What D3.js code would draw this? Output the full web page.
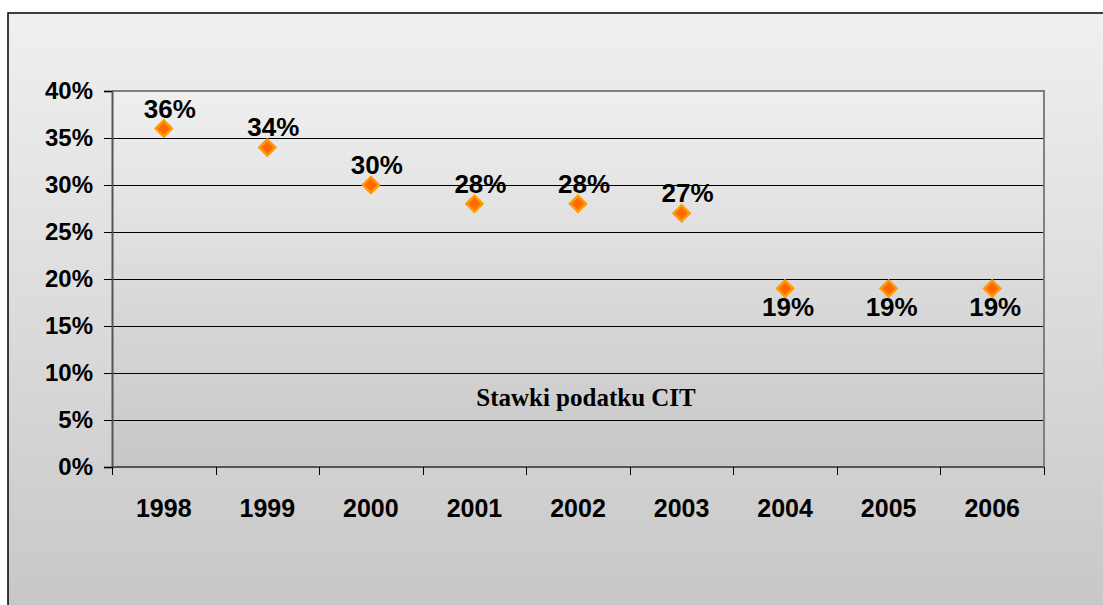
<!DOCTYPE html>
<html>
<head>
<meta charset="utf-8">
<script src="https://cdn.jsdelivr.net/npm/d3@7"></script>
<style>
  html, body { margin: 0; padding: 0; background: #fff; }
  svg { display: block; font-family: "Liberation Sans", Arial, sans-serif; }
</style>
</head>
<body>
<svg id="chart" width="1103" height="605"></svg>
<script>
// data
const years = ['1998', '1999', '2000', '2001', '2002', '2003', '2004', '2005', '2006'];
const rates = [0.36, 0.34, 0.30, 0.28, 0.28, 0.27, 0.19, 0.19, 0.19];
const yTicks = [0, 0.05, 0.10, 0.15, 0.20, 0.25, 0.30, 0.35, 0.40];
const seriesName = 'Stawki podatku CIT';

const W = 1103, H = 605;
const plot = { left: 112, right: 1044, top: 91, bottom: 467 };

const svg = d3.select('#chart');
const defs = svg.append('defs');

function vGrad(id, top, bottom) {
  const g = defs.append('linearGradient').attr('id', id)
    .attr('x1', 0).attr('y1', 0).attr('x2', 0).attr('y2', 1);
  g.append('stop').attr('offset', '0%').attr('stop-color', top);
  g.append('stop').attr('offset', '100%').attr('stop-color', bottom);
}
vGrad('outerBg', '#f0f0f0', '#c6c6c6');
vGrad('plotBg', '#efefef', '#c7c7c7');

// outer chart area (runs past the right/bottom edge)
svg.append('rect')
  .attr('x', 8).attr('y', 13)
  .attr('width', W + 20).attr('height', H + 10)
  .attr('fill', 'url(#outerBg)')
  .attr('stroke', '#000').attr('stroke-width', 1.5);

const x = d3.scaleBand().domain(years).range([plot.left, plot.right]);
const y = d3.scaleLinear().domain([0, 0.4]).range([plot.bottom, plot.top]);

// plot area
svg.append('rect')
  .attr('x', plot.left).attr('y', plot.top)
  .attr('width', plot.right - plot.left).attr('height', plot.bottom - plot.top)
  .attr('fill', 'url(#plotBg)');

// gridlines
svg.append('g')
  .selectAll('line')
  .data(yTicks.filter(t => t > 0 && t < 0.4))
  .join('line')
  .attr('x1', plot.left).attr('x2', plot.right)
  .attr('y1', d => Math.round(y(d)) + 0.5).attr('y2', d => Math.round(y(d)) + 0.5)
  .attr('stroke', '#000').attr('stroke-width', 1);

// top + right border of plot
svg.append('path')
  .attr('d', `M${plot.left},${plot.top} H${plot.right} V${plot.bottom}`)
  .attr('fill', 'none').attr('stroke', '#808080').attr('stroke-width', 2);

// y axis
const yAxis = d3.axisLeft(y).tickValues(yTicks).tickFormat(d3.format('.0%')).tickSize(8).tickPadding(11);
const gy = svg.append('g').attr('transform', `translate(${plot.left},0)`).call(yAxis);
gy.attr('font-size', null).attr('font-family', null);
gy.select('.domain').attr('stroke', '#555').attr('stroke-width', 2);
gy.selectAll('.tick line').attr('stroke', '#000');
gy.selectAll('.tick text')
  .attr('font-size', 24).attr('font-weight', 'bold').attr('fill', '#000');

// x axis: ticks between categories
const gx = svg.append('g').attr('transform', `translate(0,${plot.bottom})`);
gx.append('line')
  .attr('x1', plot.left).attr('x2', plot.right)
  .attr('stroke', '#555').attr('stroke-width', 2);
const edges = years.map(d => x(d)).concat([x(years[years.length - 1]) + x.bandwidth()]);
gx.selectAll('line.tick')
  .data(edges)
  .join('line').attr('class', 'tick')
  .attr('x1', d => Math.round(d) + 0.5).attr('x2', d => Math.round(d) + 0.5)
  .attr('y1', 0).attr('y2', 8)
  .attr('stroke', '#000');
gx.selectAll('text')
  .data(years)
  .join('text')
  .attr('x', d => x(d) + x.bandwidth() / 2)
  .attr('y', 50)
  .attr('text-anchor', 'middle')
  .attr('font-size', 25).attr('font-weight', 'bold')
  .text(d => d);

// series label inside the plot
svg.append('text')
  .attr('x', 586)
  .attr('y', 406)
  .attr('text-anchor', 'middle')
  .attr('font-family', '"Liberation Serif", "Times New Roman", serif')
  .attr('font-size', 25).attr('font-weight', 'bold')
  .text(seriesName);

// markers
const pts = years.map((d, i) => ({ year: d, v: rates[i] }));
const cx = d => x(d.year) + x.bandwidth() / 2;

svg.append('g')
  .selectAll('path')
  .data(pts)
  .join('path')
  .attr('d', d3.symbol(d3.symbolSquare, 128)())
  .attr('transform', d => `translate(${cx(d)},${y(d.v)}) rotate(45)`)
  .attr('fill', '#ff6a00')
  .attr('stroke', '#ff9a00')
  .attr('stroke-width', 2.5);

// data labels: above, except the flat low tail which sits below
svg.append('g')
  .selectAll('text')
  .data(pts)
  .join('text')
  .attr('x', d => cx(d) + (d.v < 0.2 ? 3 : 6))
  .attr('y', d => y(d.v) + (d.v < 0.2 ? 28 : -11))
  .attr('text-anchor', 'middle')
  .attr('font-size', 26).attr('font-weight', 'bold')
  .text(d => d3.format('.0%')(d.v));
</script>
</body>
</html>
